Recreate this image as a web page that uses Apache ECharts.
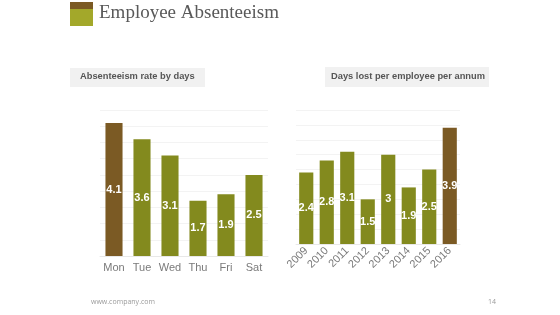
<!DOCTYPE html>
<html>
<head>
<meta charset="utf-8">
<script src="https://cdn.jsdelivr.net/npm/echarts@6/dist/echarts.min.js"></script>
<style>
  html, body { margin: 0; padding: 0; background: #fff; }
  #chart { width: 560px; height: 315px; }
</style>
</head>
<body>
<div id="chart"></div>
<script type="text/javascript">
	// data
	var days = ['Mon', 'Tue', 'Wed', 'Thu', 'Fri', 'Sat'];
	var dayRates = [4.1, 3.6, 3.1, 1.7, 1.9, 2.5];
	var years = ['2009', '2010', '2011', '2012', '2013', '2014', '2015', '2016'];
	var daysLost = [2.4, 2.8, 3.1, 1.5, 3, 1.9, 2.5, 3.9];

	var OLIVE = '#838a1e';
	var BROWN = '#7b5a24';

	// the highest bar of each chart is drawn in brown
	function barColor(list){
		var max = Math.max.apply(null, list);
		return function(p){ return p.value === max ? BROWN : OLIVE; };
	}

	var valueAxis = function(idx){
		return {
			type: 'value', gridIndex: idx, min: 0, max: 4.5, interval: 0.5,
			axisLabel: { show: false }, axisLine: { show: false }, axisTick: { show: false },
			splitLine: { lineStyle: { color: '#f3f3f3', width: 1 } }
		};
	};

	var barLabel = {
		show: true, position: 'inside', color: '#fff',
		textBorderWidth: 0, textBorderColor: 'transparent',
		fontFamily: 'Liberation Sans', fontWeight: 'bold', fontSize: 11
	};

	var myChart = echarts.init(document.getElementById('chart'), null, { renderer: 'canvas' });
	var option = {
		animation: false,
		grid: [
			{ left: 100, width: 168, top: 110, bottom: 59 },
			{ left: 296, width: 164, top: 110, bottom: 71 }
		],
		xAxis: [
			{
				type: 'category', gridIndex: 0, data: days,
				axisTick: { show: false },
				axisLine: { lineStyle: { color: '#e8e8e8' } },
				axisLabel: { interval: 0, color: '#7a7a7a', fontFamily: 'Liberation Sans', fontSize: 11, margin: 6 }
			},
			{
				type: 'category', gridIndex: 1, data: years,
				axisTick: { show: false },
				axisLine: { lineStyle: { color: '#e8e8e8' } },
				axisLabel: { interval: 0, color: '#7a7a7a', fontFamily: 'Liberation Sans', fontSize: 11, rotate: 45, margin: 5 }
			}
		],
		yAxis: [valueAxis(0), valueAxis(1)],
		series: [
			{
				type: 'bar', xAxisIndex: 0, yAxisIndex: 0, data: dayRates,
				barWidth: '61%', itemStyle: { color: barColor(dayRates) }, label: barLabel
			},
			{
				type: 'bar', xAxisIndex: 1, yAxisIndex: 1, data: daysLost,
				barWidth: '69%', itemStyle: { color: barColor(daysLost) }, label: barLabel
			}
		],
		graphic: [
			// title block
			{ type: 'rect', shape: { x: 70, y: 2, width: 23, height: 7 }, style: { fill: '#7b5a24' } },
			{ type: 'rect', shape: { x: 70, y: 9, width: 23, height: 17 }, style: { fill: '#a3a82a' } },
			{ type: 'text', left: 99, top: 4, style: { text: 'Employee Absenteeism', fill: '#595959',
				font: '19px "Liberation Serif", "DejaVu Serif", serif' } },
			// panel headers
			{ type: 'rect', shape: { x: 70, y: 68, width: 135, height: 19 }, style: { fill: '#f1f1f1' } },
			{ type: 'text', left: 80, top: 72, style: { text: 'Absenteeism rate by days', fill: '#555',
				font: 'bold 9.3px "Liberation Sans", Arial, sans-serif' } },
			{ type: 'rect', shape: { x: 325, y: 67, width: 164, height: 20 }, style: { fill: '#f1f1f1' } },
			{ type: 'text', left: 331, top: 72, style: { text: 'Days lost per employee per annum', fill: '#555',
				font: 'bold 9.3px "Liberation Sans", Arial, sans-serif' } },
			// footer
			{ type: 'text', left: 91, top: 298, style: { text: 'www.company.com', fill: '#9a9a9a',
				font: '7px "Open Sans", "Liberation Sans", sans-serif' } },
			{ type: 'text', left: 488, top: 298, style: { text: '14', fill: '#9a9a9a',
				font: '7px "Open Sans", "Liberation Sans", sans-serif' } }
		]
	};
	myChart.setOption(option);
</script>
</body>
</html>
